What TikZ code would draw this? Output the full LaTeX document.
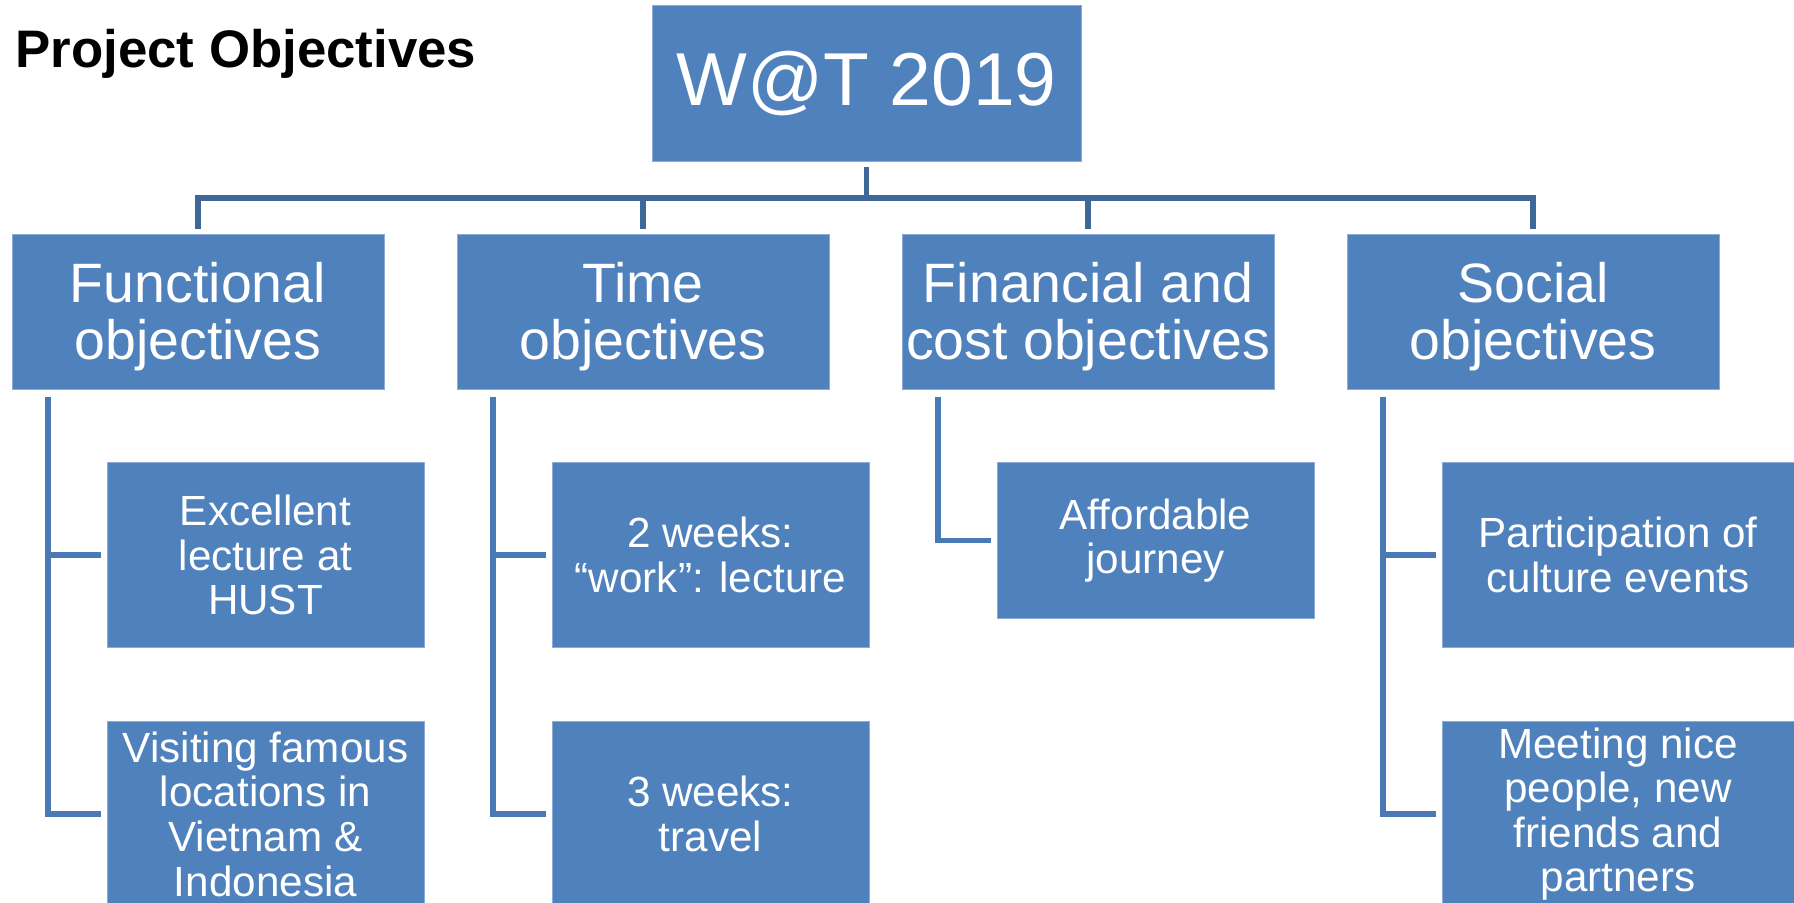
\documentclass[tikz,border=0pt]{standalone}
\usepackage{fontspec}
\setmainfont{Liberation Sans}
\usepackage{xcolor}
\usetikzlibrary{positioning}

\definecolor{objblue}{HTML}{4F81BD}
\definecolor{objedge}{HTML}{8EAAD6}
\definecolor{toplink}{HTML}{3F6898}
\definecolor{sublinkc}{HTML}{4A7AB5}

\begin{document}
\begin{tikzpicture}[
  base/.style={fill=objblue, draw=objedge, line width=0.4pt, text=white,
               align=center, inner sep=2pt, outer sep=0pt},
  topbox/.style={base, minimum width=214.5pt, minimum height=78pt,
                 font=\fontsize{37.5}{40}\selectfont},
  objbox/.style={base, minimum width=186pt, minimum height=77.5pt,
                 font=\fontsize{27.75}{28.5}\selectfont, text depth=1.2pt},
  subbox/.style={base, minimum width=158.5pt, minimum height=92.5pt,
                 font=\fontsize{21.1}{22.3}\selectfont},
  link/.style={toplink, line width=2.7pt},
  sublink/.style={sublinkc, line width=2.7pt},
  node distance=36.5pt
]
\useasboundingbox (0,0) rectangle (897pt,-451pt);

\node[anchor=base west, inner sep=0pt,
      font=\fontsize{26.4}{30}\selectfont\bfseries] (title) at (7.5pt,-33.5pt) {Project Objectives};
\node[topbox] (wat) at (433.25pt,-41.5pt) {W@T 2019};

\node[objbox] (fo) at (99pt,-156pt) {Functional\\objectives};
\node[objbox, right=of fo] (to) {Time\\objectives};
\node[objbox, right=of to] (co) {Financial and\\cost objectives};
\node[objbox, right=of co] (so) {Social\\objectives};

% sub objectives
\node[subbox, below right=36.5pt and 47.5pt of fo.south west] (fo1) {Excellent\\lecture at\\HUST};
\node[subbox, below=37pt of fo1] (fo2) {Visiting famous\\locations in\\Vietnam \&\\Indonesia};
\node[subbox, below right=36.5pt and 47.5pt of to.south west] (to1) {2 weeks:\\“work”: lecture};
\node[subbox, below=37pt of to1] (to2) {3 weeks:\\travel};
\node[subbox, minimum height=78pt, below right=36.5pt and 47.5pt of co.south west] (co1) {Affordable\\journey};
\node[subbox, minimum width=176pt, below right=36.5pt and 47.5pt of so.south west] (so1) {Participation of\\culture events};
\node[subbox, minimum width=176pt, below=37pt of so1] (so2) {Meeting nice\\people, new\\friends and\\partners};

\foreach \n in {fo,to,co,so}
  \draw[link] ([yshift=-3pt]wat.south) -- ++(0,-15.5pt) -| ([yshift=3pt]\n.north);

\foreach \p/\c in {fo/fo1,fo/fo2,to/to1,to/to2,co/co1,so/so1,so/so2}
  \draw[sublink] ([xshift=18pt,yshift=-3.5pt]\p.south west) |- ([xshift=-3pt]\c.west);
\end{tikzpicture}
\end{document}
